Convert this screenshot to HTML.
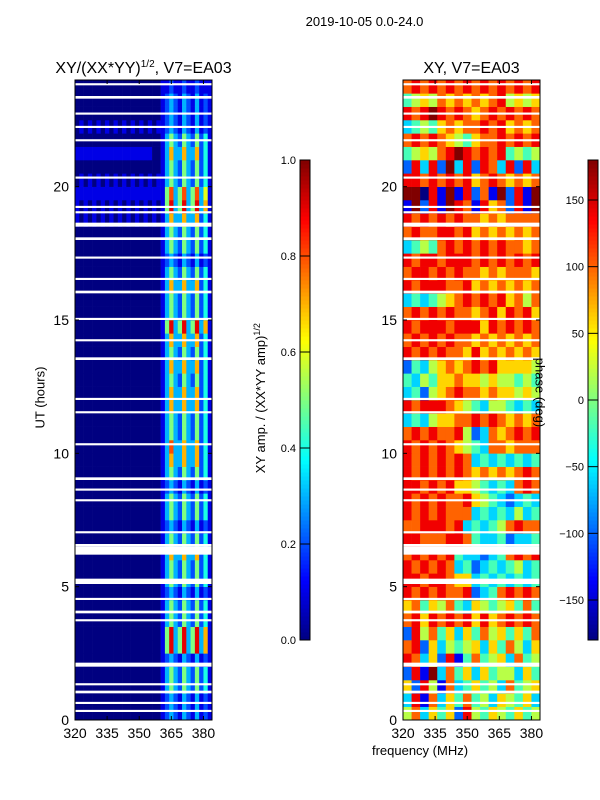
<!DOCTYPE html>
<html><head><meta charset="utf-8">
<style>
body{margin:0;background:#fff;width:600px;height:800px;overflow:hidden;font-family:"Liberation Sans",sans-serif;}
svg{display:block}
text{font-family:"Liberation Sans","DejaVu Sans",sans-serif;fill:#000}
</style></head><body>
<svg id="fig" width="600" height="800" viewBox="0 0 600 800"></svg>
<script>
// ---- data ----
const freqMin = 320, freqMax = 384;
const utMin = 0, utMax = 24;
const xTicks = [320, 335, 350, 365, 380];
const yTicks = [0, 5, 10, 15, 20];
const ampTicks = [0.0, 0.2, 0.4, 0.6, 0.8, 1.0];
const phaseTicks = [-150, -100, -50, 0, 50, 100, 150];
// amplitude rows (0.5 h each, from UT 0 upward), 32 cols of 2 MHz, digit = amp*10
const LOW = "00000000000000000000";
const ampRows = [
LOW+"123213213121",LOW+"123213213121",LOW+"135325325241",LOW+"135325325241",
LOW+"123213213121",LOW+"159359359371",LOW+"159359359371",LOW+"135325325241",
LOW+"135325325241",LOW+"123213213121",LOW+"135325325241",LOW+"135325325241",
LOW+"137337337241",LOW+"135325325241",LOW+"123213213121",LOW+"135325325241",
LOW+"135325325241",LOW+"123213213121",LOW+"135325325241",LOW+"137337337241",
LOW+"138337337241",LOW+"135325325241",LOW+"135325325241",LOW+"137337337241",
LOW+"137337337241",LOW+"135325325241",LOW+"137337337241",LOW+"135325325241",
LOW+"137337337241",LOW+"159359359371",LOW+"135325325241",LOW+"135325325241",
LOW+"137337337241",LOW+"135325325241",LOW+"123213213121",LOW+"135325325241",
"00000000000000000000135325325241","10101010101010101010137337337241","10101010101010101010159359359371","11111111111111111111158358358361",
"01010101010101010101135325325241","00000000000000000000135325325241","11111111111111111100137337337241","00000000000000000000135325325241",
"01010101010101010101123213213121","00000000000000000000123213213121","00000000000000000000123213213121","00000000000000000000112112112111"
];
// phase rows, 16 cols of 4 MHz, digit d -> -180 + 40*d
const phaseRows = [
"5736462854654645","3817364745365463","6285173464537456","2819374636455364",
"8736281474563745","7826354563647536","2857463647564647","7868787868678787",
"6746574365456474","8787877823478787","8878876634343434","8787873423434534",
"7878784332347878","8877788743342334","7788878343457877","8787877734343534",
"8787877865432343","8878786654343787","8787878767676787","8787878734343434",
"8787876543776777","7878778523767878","3435667787876767","8788876543554343",
"3425678776766565","4354667665655454","2435676787866665","8787877686767676",
"7878787767676767","8788878886878787","7878787767868786","3434567878786757",
"8788877867676767","7887878776767776","8788788878787878","3454787878787767",
"7877887867676767","8787878776767777","1928198718672819","9908191827192819",
"8878787867876767","2838293828738283","4565789878784545","7878765467787878",
"3454676778786767","8789878767878787","4565767676785656","7878787878787878"
];
// flagged (blank) UT intervals
const gapStart = [0.3,0.6,1.0,1.3,2.0,3.7,4.0,4.5,5.1,6.2,6.5,7.0,8.2,8.6,9.0,10.3,11.5,12.0,13.5,14.2,15.0,16.0,16.5,17.3,18.0,18.5,19.0,19.2,20.3,21.7,22.2,22.7,23.3,23.8];
const gapLen   = [0.08,0.08,0.1,0.08,0.15,0.08,0.1,0.08,0.2,0.3,0.1,0.08,0.08,0.08,0.1,0.08,0.08,0.08,0.1,0.08,0.08,0.1,0.08,0.08,0.1,0.15,0.08,0.08,0.08,0.08,0.08,0.08,0.1,0.08];

// ---- helpers ----
const NS = "http://www.w3.org/2000/svg";
const svg = document.getElementById('fig');
function mk(tag, attrs, parent){const e=document.createElementNS(NS,tag);for(const k in attrs)e.setAttribute(k,attrs[k]);(parent||svg).appendChild(e);return e;}
function jet(v){v=Math.max(0,Math.min(1,v));const f=x=>Math.round(255*Math.max(0,Math.min(1,x)));
 const r=f(Math.min(4*v-1.5,-4*v+4.5)), g=f(Math.min(4*v-0.5,-4*v+3.5)), b=f(Math.min(4*v+0.5,-4*v+2.5));return `rgb(${r},${g},${b})`;}
const yTop=80, yBot=720;
function yScale(ut){return yBot-(ut-utMin)/(utMax-utMin)*(yBot-yTop);}
function makeX(x0,x1){return f=>x0+(f-freqMin)/(freqMax-freqMin)*(x1-x0);}

function panel(name,x0,x1,rows,valFn,titleHTML){
 const xs=makeX(x0,x1);
 const g=mk('g',{});
 
 
 const nr=rows.length;
 rows.forEach((row,i)=>{
  const nc=row.length, df=(freqMax-freqMin)/nc, dt=(utMax-utMin)/nr;
  for(let j=0;j<nc;j++){
   const xa=xs(freqMin+j*df), xb=xs(freqMin+(j+1)*df);
   const ya=yScale(utMin+(i+1)*dt), yb=yScale(utMin+i*dt);
   const r=mk('rect',{x:xa,y:ya,width:xb-xa+0.3,height:yb-ya+0.3,fill:jet(valFn(+row[j]))},g);
   
   
  }
 });
 gapStart.forEach((s,k)=>{
  const r=mk('rect',{x:x0,y:yScale(s+gapLen[k]),width:x1-x0,height:yScale(s)-yScale(s+gapLen[k]),fill:'#fff'},g);
  
  
 });
 mk('rect',{x:x0,y:yTop,width:x1-x0,height:yBot-yTop,fill:'none',stroke:'#000','stroke-width':1},g);
 xTicks.forEach(t=>{const x=xs(t);
  mk('line',{x1:x,x2:x,y1:yBot,y2:yBot-4,stroke:'#000'},g);
  mk('line',{x1:x,x2:x,y1:yTop,y2:yTop+4,stroke:'#000'},g);
  const tx=mk('text',{x:x,y:yBot+18,'text-anchor':'middle','font-size':14},g);tx.textContent=t;
  });
 yTicks.forEach(t=>{const y=yScale(t);
  mk('line',{x1:x0,x2:x0+4,y1:y,y2:y,stroke:'#000'},g);
  mk('line',{x1:x1,x2:x1-4,y1:y,y2:y,stroke:'#000'},g);
  const tx=mk('text',{x:x0-6,y:y+5,'text-anchor':'end','font-size':14},g);tx.textContent=t;
  });
 const ti=mk('text',{x:(x0+x1)/2,y:73,'text-anchor':'middle','font-size':16},g);ti.innerHTML=titleHTML;
 
}
panel('amplitude-heatmap',75,212,ampRows,d=>d/10,'XY/(XX*YY)<tspan font-size="10" dy="-6">1/2</tspan><tspan dy="6">, V7=EA03</tspan>');
panel('phase-heatmap',403,540,phaseRows,d=>(d*40)/360,'XY, V7=EA03');

function colorbar(name,x,lo,hi,ticks,fmt){
 const g=mk('g',{});
 const y0=160,y1=640,n=120;
 for(let i=0;i<n;i++){mk('rect',{x:x,y:y1-(i+1)*(y1-y0)/n,width:10,height:(y1-y0)/n+0.5,fill:jet((i+0.5)/n)},g);}
 mk('rect',{x:x,y:y0,width:10,height:y1-y0,fill:'none',stroke:'#000'},g);
 ticks.forEach(t=>{const y=y1-(t-lo)/(hi-lo)*(y1-y0);
  mk('line',{x1:x,x2:x+10,y1:y,y2:y,stroke:'#000'},g);
  const tx=mk('text',{x:x-4,y:y+4,'text-anchor':'end','font-size':11},g);tx.textContent=fmt(t);
  });
}
colorbar('amplitude-colorbar',300,0,1,ampTicks,t=>t.toFixed(1));
colorbar('phase-colorbar',588,-180,180,phaseTicks,t=>t<0?'\u2212'+(-t):String(t));
</script>
<div style="position:absolute;left:0;top:0;width:600px;height:800px;pointer-events:none">
<div style="position:absolute;left:0;width:729px;top:14px;text-align:center;font-size:13px">2019-10-05 0.0-24.0</div>
<div style="position:absolute;left:-20px;top:390px;width:120px;text-align:center;font-size:13px;transform:rotate(-90deg)">UT (hours)</div>
<div style="position:absolute;left:160px;top:390px;width:200px;text-align:center;font-size:13px;transform:rotate(-90deg)">XY amp. / (XX*YY amp)<sup style="font-size:9px">1/2</sup></div>
<div style="position:absolute;left:490px;top:385px;width:100px;text-align:center;font-size:13px;transform:rotate(90deg)">phase (deg)</div>
<div style="position:absolute;left:320px;width:200px;top:743px;text-align:center;font-size:13px">frequency (MHz)</div>
</div>
</body></html>
